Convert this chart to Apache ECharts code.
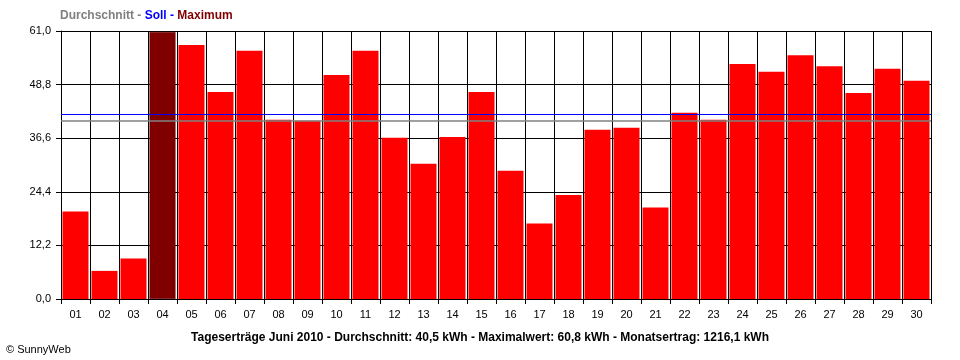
<!DOCTYPE html>
<html>
<head>
<meta charset="utf-8">
<script src="https://cdn.jsdelivr.net/npm/echarts@6/dist/echarts.min.js"></script>
<style>html,body{margin:0;padding:0;background:#fff}#c{width:960px;height:360px}</style>
</head>
<body>
<div id="c"></div>
<script>
var days = ['01','02','03','04','05','06','07','08','09','10','11','12','13','14','15','16','17','18','19','20','21','22','23','24','25','26','27','28','29','30'];
var yields = [19.9,6.4,9.2,60.8,57.8,47.1,56.5,40.8,40.6,51.0,56.5,36.7,30.8,36.9,47.1,29.2,17.2,23.7,38.5,39.0,20.8,42.4,40.8,53.5,51.7,55.5,53.0,46.9,52.4,49.7];
var sollValue = 42.0;
var averageValue = 40.5;
var yTicks = [0, 12.2, 24.4, 36.6, 48.8, 61.0];
var legendTexts = ['Durchschnitt', 'Soll', 'Maximum'];
var footerText = 'Tageserträge Juni 2010 - Durchschnitt: 40,5 kWh - Maximalwert: 60,8 kWh - Monatsertrag: 1216,1 kWh';
var copyrightText = '© SunnyWeb';

var FONT = 'Liberation Sans';
var maxVal = Math.max.apply(null, yields);
var barData = yields.map(function (v) {
  return v === maxVal ? { value: v, itemStyle: { color: '#800000', borderColor: '#5a0000', borderWidth: 0.5 } } : v;
});

var chart = echarts.init(document.getElementById('c'), null, { renderer: 'canvas' });
chart.setOption({
  backgroundColor: '#ffffff',
  animation: false,
  title: [
    {
      text: '{g|' + legendTexts[0] + ' - }{b|' + legendTexts[1] + ' - }{r|' + legendTexts[2] + '}',
      left: 55, top: 5,
      textStyle: {
        rich: {
          g: { color: '#808080', fontFamily: FONT, fontSize: 12, fontWeight: 'bold' },
          b: { color: '#0000ff', fontFamily: FONT, fontSize: 12, fontWeight: 'bold' },
          r: { color: '#800000', fontFamily: FONT, fontSize: 12, fontWeight: 'bold' }
        }
      }
    },
    {
      text: footerText,
      left: 'center', top: 327,
      textStyle: { color: '#000', fontFamily: FONT, fontSize: 12, fontWeight: 'bold' }
    },
    {
      text: copyrightText,
      left: 1, top: 339,
      textStyle: { color: '#000', fontFamily: FONT, fontSize: 11, fontWeight: 'normal' }
    }
  ],
  grid: { left: 61, right: 29, top: 31, bottom: 61, containLabel: false },
  xAxis: {
    type: 'category',
    data: days,
    boundaryGap: true,
    axisLine: { show: true, lineStyle: { color: '#000', width: 1 } },
    axisTick: { show: true, length: 5, lineStyle: { color: '#000', width: 1 } },
    axisLabel: { color: '#000', fontFamily: FONT, fontSize: 11, margin: 10 },
    splitLine: { show: true, lineStyle: { color: '#000', width: 1 } }
  },
  yAxis: {
    type: 'value',
    min: 0, max: 61, interval: 12.2,
    axisLine: { show: true, lineStyle: { color: '#000', width: 1 } },
    axisTick: { show: true, length: 5, lineStyle: { color: '#000', width: 1 } },
    axisLabel: {
      color: '#000', fontFamily: FONT, fontSize: 11, margin: 10,
      formatter: function (v) { return v.toFixed(1).replace('.', ','); }
    },
    splitLine: { show: true, lineStyle: { color: '#000', width: 1 } }
  },
  series: [{
    type: 'bar',
    data: barData,
    barWidth: 26,
    itemStyle: { color: '#ff0000' },
    markLine: {
      silent: true,
      symbol: 'none',
      label: { show: false },
      data: [
        { yAxis: sollValue, lineStyle: { color: '#0000ff', width: 1, type: 'solid' } },
        { yAxis: averageValue, lineStyle: { color: '#808080', width: 1.5, type: 'solid' } }
      ]
    }
  }]
});
</script>
</body>
</html>
